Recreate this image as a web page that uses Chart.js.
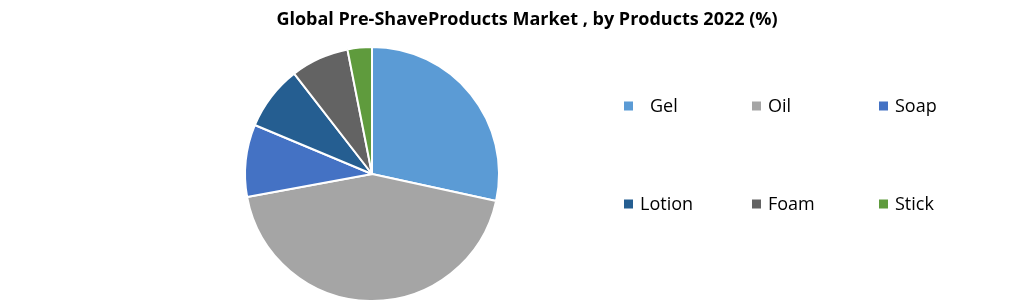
<!DOCTYPE html>
<html>
<head>
<meta charset="utf-8">
<script src="https://cdn.jsdelivr.net/npm/chart.js@4"></script>
<style>
  html, body { margin: 0; padding: 0; background: #fff; }
  #wrap { width: 1020px; height: 303px; position: relative; }
</style>
</head>
<body>
<div id="wrap"><canvas id="pieChart"></canvas></div>
<script>
const titleText = 'Global Pre-ShaveProducts Market , by Products 2022 (%)';
const labels = ['Gel', 'Oil', 'Soap', 'Lotion', 'Foam', 'Stick'];
const shares = [28.4, 43.7, 9.2, 8.2, 7.4, 3.1];
const colors = ['#5B9BD5', '#A5A5A5', '#4472C4', '#255E91', '#636363', '#5F9B3D'];

// legend grid: 3 columns x 2 rows, drawn to the right of the pie
const legendCols = [624, 752, 879];
const legendRows = [106, 204];

const customDraw = {
    id: 'customDraw',
    afterDraw(chart) {
        const ctx = chart.ctx;
        ctx.save();
        ctx.fillStyle = '#000';
        ctx.font = 'bold 18px "Open Sans", sans-serif';
        ctx.textAlign = 'center';
        ctx.textBaseline = 'middle';
        ctx.fillText(titleText, 527, 20);

        ctx.font = '18px "Open Sans", sans-serif';
        ctx.textAlign = 'left';
        chart.data.labels.forEach((lab, i) => {
            const x = legendCols[i % 3];
            const y = legendRows[Math.floor(i / 3)];
            ctx.fillStyle = chart.data.datasets[0].backgroundColor[i];
            ctx.fillRect(x, y - 4.5, 9, 9);
            ctx.fillStyle = '#000';
            const gap = lab === 'Gel' ? 26 : 16;
            ctx.fillText(lab, x + gap, y + 1);
        });
        ctx.restore();
    }
};

new Chart(document.getElementById('pieChart'), {
    type: 'pie',
    data: {
        labels: labels,
        datasets: [{
            data: shares,
            backgroundColor: colors,
            borderColor: '#fff',
            borderWidth: 2
        }]
    },
    options: {
        responsive: true,
        maintainAspectRatio: false,
        animation: false,
        layout: {
            padding: { top: 46, bottom: 1, left: 244, right: 520 }
        },
        plugins: {
            legend: { display: false },
            title: { display: false },
            tooltip: { enabled: false }
        }
    },
    plugins: [customDraw]
});
</script>
</body>
</html>
